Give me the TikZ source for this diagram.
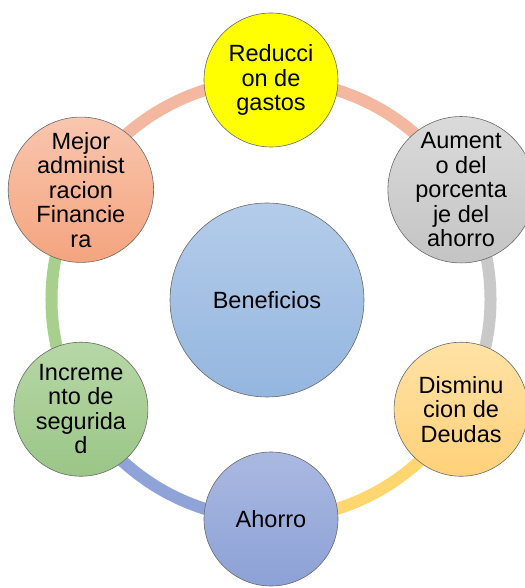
\documentclass[tikz,border=0pt]{standalone}
\usepackage{fontspec}
\setmainfont{Liberation Sans}
\definecolor{yel}{HTML}{FFFF00}
\definecolor{grayT}{HTML}{DADADA}\definecolor{grayB}{HTML}{C4C4C4}
\definecolor{orT}{HTML}{FFE2A6}\definecolor{orB}{HTML}{FFD179}
\definecolor{blT}{HTML}{AAB9E1}\definecolor{blB}{HTML}{8CA1D6}
\definecolor{grT}{HTML}{B6D7A6}\definecolor{grB}{HTML}{9BC687}
\definecolor{saT}{HTML}{F9C6AF}\definecolor{saB}{HTML}{F4A47E}
\definecolor{ceT}{HTML}{B4CCEA}\definecolor{ceB}{HTML}{94B6DF}
\definecolor{arcSa}{HTML}{F4B7A0}
\definecolor{arcGr}{HTML}{C9C9C9}
\definecolor{arcOr}{HTML}{FFD66F}
\definecolor{arcBl}{HTML}{8FA3D8}
\definecolor{arcGn}{HTML}{A8D08D}
\definecolor{edge}{HTML}{6A6A6A}
\tikzset{
  bub/.style={circle, minimum size=134pt, inner sep=0pt, align=center,
    draw=edge, line width=0.6pt, text=black,
    font=\fontsize{23.5pt}{24.5pt}\selectfont},
  ring/.style={line width=12pt},
}
\begin{document}
\begin{tikzpicture}[x=1pt,y=1pt]
\useasboundingbox (0,0) rectangle (524,588);
% positions
\coordinate (C) at (271,288.5);
\coordinate (pT)  at (271,508);
\coordinate (pUR) at (461.1,398.25);
\coordinate (pLR) at (461.1,178.75);
\coordinate (pB)  at (271,69);
\coordinate (pLL) at (80.9,178.75);
\coordinate (pUL) at (80.9,398.25);
% ring arcs
\draw[ring, arcSa] (pUL) arc[start angle=150, end angle=90, radius=219.5pt];
\draw[ring, arcSa] (pT) arc[start angle=90, end angle=30, radius=219.5pt];
\draw[ring, arcGr] (pUR) arc[start angle=30, end angle=-30, radius=219.5pt];
\draw[ring, arcOr] (pLR) arc[start angle=-30, end angle=-90, radius=219.5pt];
\draw[ring, arcBl] (pB) arc[start angle=-90, end angle=-150, radius=219.5pt];
\draw[ring, arcGn] (pLL) arc[start angle=-150, end angle=-210, radius=219.5pt];
% central
\node[bub, minimum size=194pt, top color=ceT, bottom color=ceB] (ben) at (267,288) {Beneficios};
% outer
\node[bub, fill=yel] (red) at (pT) {Reducci\\on de\\gastos};
\node[bub, top color=grayT, bottom color=grayB] (aum) at (pUR) {Aument\\o del\\porcenta\\je del\\ahorro};
\node[bub, top color=orT, bottom color=orB] (dis) at (pLR) {Disminu\\cion de\\Deudas};
\node[bub, top color=blT, bottom color=blB] (aho) at (pB) {Ahorro};
\node[bub, top color=grT, bottom color=grB] (inc) at (pLL) {Increme\\nto de\\segurida\\d};
\node[bub, top color=saT, bottom color=saB] (mej) at (pUL) {Mejor\\administ\\racion\\Financie\\ra};
\end{tikzpicture}
\end{document}
